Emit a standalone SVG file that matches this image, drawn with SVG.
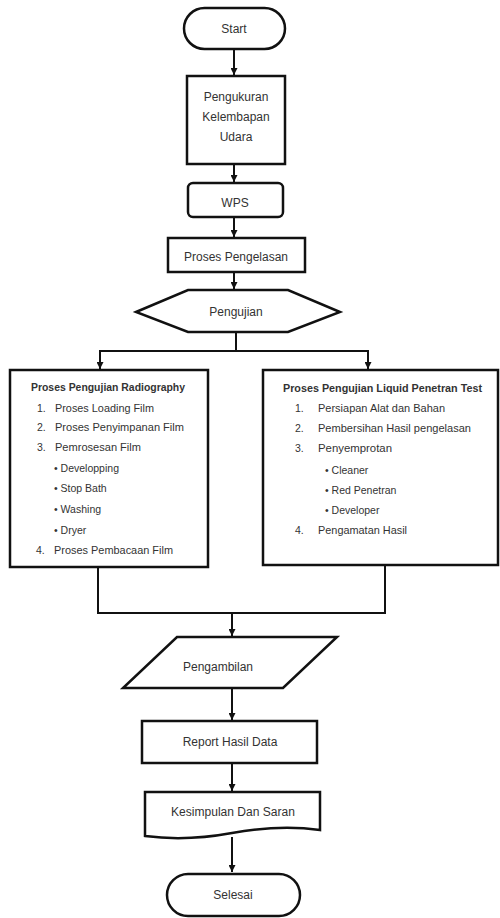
<svg xmlns="http://www.w3.org/2000/svg" width="500" height="918" viewBox="0 0 500 918">
<defs>
<marker id="ah" viewBox="0 0 10 10" refX="10" refY="5" markerWidth="7" markerHeight="7" markerUnits="userSpaceOnUse" orient="auto"><path d="M0,0 L10,5 L0,10 z" fill="#111"/></marker>
<style>
.s{fill:#fff;stroke:#111;stroke-width:2.5}
.c{fill:none;stroke:#111;stroke-width:2}
.t{font-family:"Liberation Sans",Arial,sans-serif;font-size:12px;fill:#333;text-anchor:middle}
.l{font-family:"Liberation Sans",Arial,sans-serif;font-size:10.5px;fill:#333}
.b{font-weight:bold}
</style>
</defs>
<rect width="500" height="918" fill="#fff"/>
<g id="connectors">
<line class="c" x1="234" y1="50" x2="234" y2="75" marker-end="url(#ah)"/>
<line class="c" x1="234" y1="165" x2="234" y2="182" marker-end="url(#ah)"/>
<line class="c" x1="234" y1="218" x2="234" y2="237" marker-end="url(#ah)"/>
<line class="c" x1="234" y1="273" x2="234" y2="289" marker-end="url(#ah)"/>
<polyline class="c" points="236,333 236,351"/>
<polyline class="c" points="100,369 100,351 368,351 368,369" marker-end="url(#ah)"/>
<line class="c" x1="100" y1="351" x2="100" y2="369" marker-end="url(#ah)"/>
<polyline class="c" points="98,568 98,613 385,613 385,566"/>
<line class="c" x1="232" y1="613" x2="232" y2="636" marker-end="url(#ah)"/>
<line class="c" x1="232" y1="689" x2="232" y2="720" marker-end="url(#ah)"/>
<line class="c" x1="232" y1="764" x2="232" y2="791" marker-end="url(#ah)"/>
<line class="c" x1="232" y1="837" x2="232" y2="872" marker-end="url(#ah)"/>
</g>
<g id="start">
<rect class="s" x="184" y="8" width="101" height="41" rx="20.5"/>
<text class="t" x="234" y="33" font-size="13">Start</text>
</g>
<g id="pengukuran">
<rect class="s" x="187" y="76" width="98" height="88"/>
<text class="t" x="236" y="101">Pengukuran</text>
<text class="t" x="236" y="121">Kelembapan</text>
<text class="t" x="236" y="141">Udara</text>
</g>
<g id="wps">
<rect class="s" x="188" y="183" width="95" height="34" rx="5"/>
<text class="t" x="235" y="207">WPS</text>
</g>
<g id="pengelasan">
<rect class="s" x="168" y="238" width="137" height="34"/>
<text class="t" x="236" y="261" textLength="104" lengthAdjust="spacingAndGlyphs">Proses Pengelasan</text>
</g>
<g id="pengujian">
<polygon class="s" points="136,312 188,290 288,290 340,312 288,332 188,332"/>
<text class="t" x="236" y="316" font-size="11">Pengujian</text>
</g>
<g id="radiography">
<rect class="s" x="10" y="370" width="198" height="197"/>
<text class="l b" x="31" y="391" textLength="154" lengthAdjust="spacingAndGlyphs">Proses Pengujian Radiography</text>
<text class="l" x="37" y="412">1.</text><text class="l" x="55" y="412" textLength="99" lengthAdjust="spacingAndGlyphs">Proses Loading Film</text>
<text class="l" x="37" y="431">2.</text><text class="l" x="55" y="431" textLength="129" lengthAdjust="spacingAndGlyphs">Proses Penyimpanan Film</text>
<text class="l" x="37" y="451">3.</text><text class="l" x="55" y="451" textLength="86" lengthAdjust="spacingAndGlyphs">Pemrosesan Film</text>
<text class="l" x="54" y="472">• Developping</text>
<text class="l" x="54" y="492">• Stop Bath</text>
<text class="l" x="54" y="513">• Washing</text>
<text class="l" x="54" y="534">• Dryer</text>
<text class="l" x="36" y="554">4.</text><text class="l" x="54" y="554" textLength="119" lengthAdjust="spacingAndGlyphs">Proses Pembacaan Film</text>
</g>
<g id="liquid">
<rect class="s" x="263" y="370" width="235" height="195"/>
<text class="l b" x="283" y="392" textLength="199" lengthAdjust="spacingAndGlyphs">Proses Pengujian  Liquid Penetran Test</text>
<text class="l" x="295" y="412">1.</text><text class="l" x="318" y="412" textLength="127" lengthAdjust="spacingAndGlyphs">Persiapan Alat dan Bahan</text>
<text class="l" x="295" y="432">2.</text><text class="l" x="318" y="432" textLength="153" lengthAdjust="spacingAndGlyphs">Pembersihan Hasil pengelasan</text>
<text class="l" x="295" y="452">3.</text><text class="l" x="318" y="452" textLength="74" lengthAdjust="spacingAndGlyphs">Penyemprotan</text>
<text class="l" x="325" y="474">• Cleaner</text>
<text class="l" x="325" y="494">• Red Penetran</text>
<text class="l" x="325" y="514">• Developer</text>
<text class="l" x="295" y="534">4.</text><text class="l" x="318" y="534" textLength="89" lengthAdjust="spacingAndGlyphs">Pengamatan Hasil</text>
</g>
<g id="pengambilan">
<polygon class="s" points="177,637 337,637 283,688 123,688"/>
<text class="t" x="218" y="671" font-size="11">Pengambilan</text>
</g>
<g id="report">
<rect class="s" x="142" y="721" width="175" height="42"/>
<text class="t" x="230" y="746">Report Hasil Data</text>
</g>
<g id="kesimpulan">
<path class="s" d="M145,792 H320 V830 C290,826 260,828 232,833 C205,838 175,840 145,836 Z"/>
<text class="t" x="233" y="816" textLength="124" lengthAdjust="spacingAndGlyphs">Kesimpulan Dan Saran</text>
</g>
<g id="selesai">
<rect class="s" x="167" y="874" width="133" height="42" rx="21"/>
<text class="t" x="233" y="899">Selesai</text>
</g>
</svg>
